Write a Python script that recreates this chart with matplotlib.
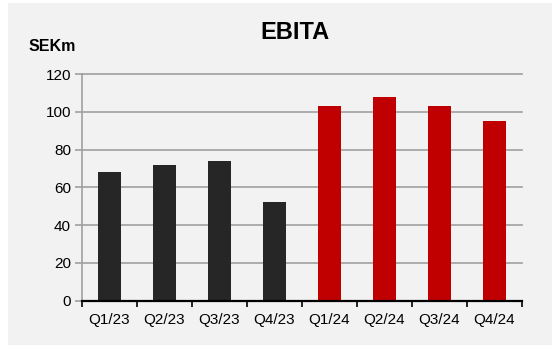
import matplotlib
matplotlib.use("Agg")
import matplotlib.pyplot as plt
from matplotlib.patches import Rectangle
import numpy as np

quarters = ["Q1/23", "Q2/23", "Q3/23", "Q4/23", "Q1/24", "Q2/24", "Q3/24", "Q4/24"]
ebita = [68, 72, 74, 52, 103, 108, 103, 95]
bar_colors = ["#262626"] * 4 + ["#c00000"] * 4
yticks = [0, 20, 40, 60, 80, 100, 120]

plt.rcParams["font.family"] = ["Liberation Sans", "DejaVu Sans"]
bg = "#f2f2f2"
grid_c = "#a0a0a0"

fig = plt.figure(figsize=(5.52, 3.46), dpi=100, facecolor="white")
# grey panel behind the chart, thin white strip left and top
fig.patches.append(Rectangle((8 / 552, 1 / 346), 1, 1 - 4 / 346, transform=fig.transFigure,
                             facecolor=bg, edgecolor="none", zorder=-10))

ax = fig.add_axes([82 / 552, 1 - 300.7 / 346, 440 / 552, 226.7 / 346])
ax.set_facecolor("none")

x = np.arange(len(quarters))
ax.bar(x, ebita, width=0.43, color=bar_colors, zorder=3)

ax.set_xlim(-0.5, len(quarters) - 0.5)
ax.set_ylim(0, 120)
ax.set_yticks(yticks)
ax.yaxis.grid(True, color=grid_c, linewidth=1.2, zorder=1)
for gl in ax.get_ygridlines():
    gl.set_clip_on(False)

ax.set_xticks(x)
ax.set_xticklabels(quarters, fontsize=11)
ax.set_xticks(np.arange(-0.5, len(quarters)), minor=True)
ax.tick_params(axis="x", which="major", length=0, pad=9)
ax.tick_params(axis="x", which="minor", length=4, width=1.2, color="black", direction="out")
ax.tick_params(axis="y", length=5, width=1.2, color=grid_c, labelsize=11, pad=3)

for s in ["top", "right"]:
    ax.spines[s].set_visible(False)
ax.spines["left"].set_color(grid_c)
ax.spines["left"].set_linewidth(1.2)
ax.spines["bottom"].set_color("black")
ax.spines["bottom"].set_linewidth(1.6)
ax.spines["bottom"].set_zorder(4)

fig.text(294.5 / 552, 1 - 39 / 346, "EBITA", ha="center", va="baseline",
         fontsize=17, fontweight="bold")
fig.text(28.3 / 552, 1 - 50.7 / 346, "SEKm", ha="left", va="baseline",
         fontsize=11.5, fontweight="bold")

fig.savefig("out.png", dpi=100, facecolor="white")
